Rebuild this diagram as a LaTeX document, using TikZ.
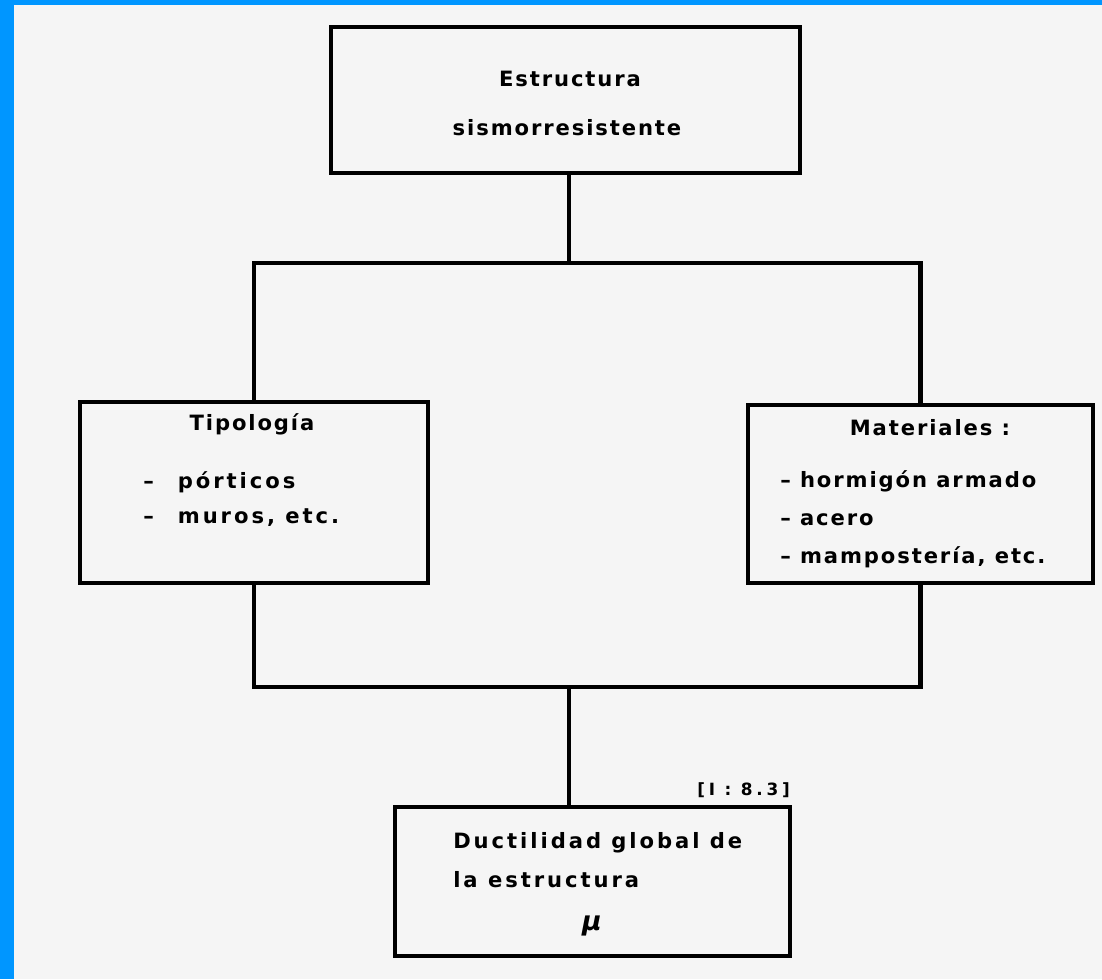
\documentclass[tikz,border=0pt]{standalone}
\usepackage{fontspec}
\setmainfont{DejaVu Sans}
\newfontfamily\lettering{DejaVu Sans}[LetterSpace=9]
\newfontfamily\widelettering{DejaVu Sans}[LetterSpace=14]
\newfontfamily\reflettering{DejaVu Sans}[LetterSpace=22]
\definecolor{paper}{RGB}{245,245,245}
\definecolor{edgeblue}{RGB}{0,150,255}

\begin{document}
\begin{tikzpicture}[x=0.025cm,y=-0.025cm,
  box/.style={draw,line width=1.2mm,inner sep=0pt},
  word/.style={font=\lettering\bfseries\fontsize{15}{18}\selectfont,inner sep=0pt},
  wideword/.style={font=\widelettering\bfseries\fontsize{15}{18}\selectfont,inner sep=0pt},
  link/.style={line width=1.2mm}]
\fill[paper] (0,0) rectangle (1102,979);
\fill[edgeblue] (0,0) rectangle (14,979);
\fill[edgeblue] (0,0) rectangle (1102,5);
\useasboundingbox (0,0) rectangle (1102,979);

\node[box,minimum width=11.725cm,minimum height=3.65cm] (top) at (565.5,100) {};
\node[box,minimum width=8.7cm,minimum height=4.525cm] (tipo) at (254,492.5) {};
\node[box,minimum width=8.625cm,minimum height=4.45cm] (mat) at (920.5,494) {};
\node[box,minimum width=9.875cm,minimum height=3.725cm] (duct) at (592.5,881.5) {};

\node[word,anchor=base] (estr) at (570,86) {Estructura};
\node[word,anchor=base] (sism) at (567,135) {sismorresistente};

\node[word,anchor=base] (tipot) at (252,430) {Tipología};
\node[wideword,anchor=base west] (tipo1) at (143,488) {–\hspace{0.6cm}pórticos};
\node[wideword,anchor=base west] (tipo2) at (143,523) {–\hspace{0.6cm}muros, etc.};

\node[word,anchor=base] (matt) at (930,435) {Materiales :};
\node[word,anchor=base west] (mat1) at (780,487) {– hormigón armado};
\node[word,anchor=base west] (mat2) at (780,525) {– acero};
\node[word,anchor=base west] (mat3) at (780,563) {– mampostería, etc.};

\node[wideword,anchor=base west] (duct1) at (453,848) {Ductilidad global de};
\node[wideword,anchor=base west] (duct2) at (453,887) {la estructura};
\node[inner sep=0pt,anchor=base] (mu) at (592,930) {\fontsize{19}{21}\selectfont\bfseries\itshape μ};
\node[font=\reflettering\bfseries\fontsize{12}{14}\selectfont,inner sep=0pt,anchor=base east] (ref) at (790,795) {[I : 8.3]};

\coordinate (split) at (569,263);
\coordinate (join) at (569,687);
\draw[link] (split |- top.south) -- (split);
\draw[link,line join=miter] (tipo.north) |- (split) -| (mat.north);
\draw[link,line join=miter] (tipo.south) |- (join) -| (mat.south);
\draw[link] (join) -- (join |- duct.north);
\end{tikzpicture}
\end{document}
